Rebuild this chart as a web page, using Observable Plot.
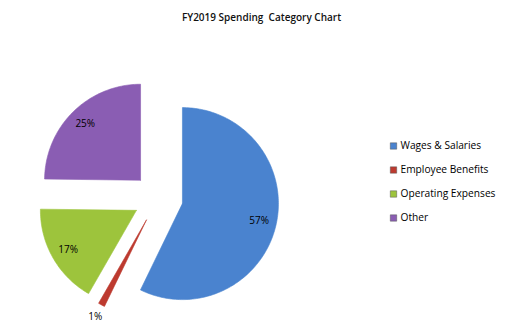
<!DOCTYPE html>
<html>
<head>
<meta charset="utf-8">
<script src="https://cdn.jsdelivr.net/npm/d3@7"></script>
<script src="https://cdn.jsdelivr.net/npm/@observablehq/plot@0.6"></script>
<style>
  html, body { margin: 0; padding: 0; background: #fff; }
  #chart { width: 522px; height: 335px; }
  svg { font-family: "Open Sans", "Liberation Sans", sans-serif; }
</style>
</head>
<body>
<div id="chart"></div>
<script>
const categories = ["Wages & Salaries", "Employee Benefits", "Operating Expenses", "Other"];
const shares = [57.2, 1.1, 16.9, 24.8];
const colors = ["#4a83cf", "#bd3a2f", "#9dc43c", "#8a5db3"];
const title = "FY2019 Spending  Category Chart";

// Layout (in unit-radius coordinates)
const W = 522, H = 335, R = 96, CX = 157.6, CY = 197.5;
const explode = 0.26;

const total = d3.sum(shares);
const arcs = d3.pie().sort(null).value(d => d)(shares);

const polys = [];
const labels = [];
arcs.forEach((a, i) => {
  const mid = (a.startAngle + a.endAngle) / 2;
  const ox = explode * Math.sin(mid), oy = explode * Math.cos(mid);
  const n = Math.max(2, Math.ceil((a.endAngle - a.startAngle) / 0.02));
  polys.push({k: i, x: ox, y: oy});
  for (let j = 0; j <= n; j++) {
    const t = a.startAngle + (a.endAngle - a.startAngle) * j / n;
    polys.push({k: i, x: ox + Math.sin(t), y: oy + Math.cos(t)});
  }
  polys.push({k: i, x: ox, y: oy});
  const share = shares[i] / total;
  const lr = share < 0.05 ? 1.14 : 0.82;
  labels.push({
    k: i,
    x: ox + lr * Math.sin(mid),
    y: oy + lr * Math.cos(mid),
    text: Math.round(share * 100) + "%"
  });
});

const legend = categories.map((c, i) => ({
  k: i, name: c,
  x: (393 - CX) / R,
  y: (CY - (145.5 + 24 * i)) / R
}));

const chart = Plot.plot({
  width: W, height: H,
  margin: 0,
  x: {domain: [-CX / R, (W - CX) / R], range: [0, W], axis: null},
  y: {domain: [-(H - CY) / R, CY / R], range: [H, 0], axis: null},
  color: {domain: d3.range(categories.length), range: colors},
  marks: [
    Plot.line(polys, {x: "x", y: "y", z: "k", fill: "k", stroke: d => d.k, strokeOpacity: 0.6, strokeWidth: 1, curve: "linear"}),
    Plot.text(labels, {x: "x", y: "y", text: "text", fontSize: 10, fill: "#000"}),
    Plot.dot(legend, {x: "x", y: "y", symbol: "square", r: 3.6, fill: "k", stroke: "#555", strokeWidth: 0.5}),
    Plot.text(legend, {x: "x", y: "y", text: "name", dx: 7, textAnchor: "start", fontSize: 10.2, fill: "#000"}),
    Plot.text([title], {frameAnchor: "top", dy: 13, fontSize: 10, fontWeight: 600, fill: "#111"})
  ]
});
document.getElementById("chart").appendChild(chart);
</script>
</body>
</html>
